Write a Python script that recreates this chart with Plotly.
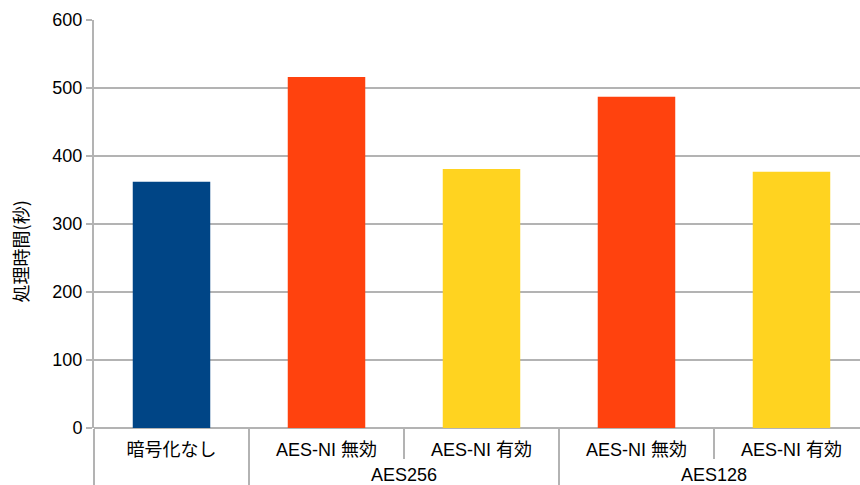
import plotly.graph_objects as go

groups = ["", "AES256", "AES256", "AES128", "AES128"]
labels = ["暗号化なし", "AES-NI 無効", "AES-NI 有効", "AES-NI 無効", "AES-NI 有効"]
values = [362, 516, 381, 487, 377]
colors = ["#004586", "#ff420e", "#ffd320", "#ff420e", "#ffd320"]
y_title = "処理時間(秒)"

FONT = "Liberation Sans, Arial, Noto Sans CJK JP, sans-serif"
GRID = "#b3b3b3"

positions = list(range(len(labels)))

# group label centres and boundaries derived from the group list
group_names, group_centers = [], []
for g in dict.fromkeys(groups):
    if not g:
        continue
    idx = [i for i, gg in enumerate(groups) if gg == g]
    group_names.append(g)
    group_centers.append(sum(idx) / len(idx))
short_div, long_div = [], [-0.5, len(labels) - 0.5]
for i in range(len(labels) - 1):
    (short_div if groups[i] == groups[i + 1] else long_div).append(i + 0.5)

fig = go.Figure()
fig.add_trace(go.Bar(
    x=positions, y=values,
    marker=dict(color=colors, line=dict(width=0)),
    width=0.5, hovertext=labels,
))
fig.add_trace(go.Scatter(
    x=positions, y=values, mode="none", xaxis="x2",
    hoverinfo="skip", showlegend=False,
))

xr = [-0.5, 4.442]
fig.update_layout(
    width=860, height=485,
    margin=dict(l=94, r=0, t=20, b=55),
    paper_bgcolor="white", plot_bgcolor="white",
    font=dict(family=FONT, size=18, color="#000000"),
    showlegend=False,
    xaxis=dict(
        range=xr, showgrid=False, showline=False, zeroline=False,
        tickmode="array", tickvals=positions, ticktext=labels,
        ticks="", ticklabelstandoff=9,
        minor=dict(tickmode="array", tickvals=short_div, ticks="outside",
                   ticklen=30, tickcolor=GRID, tickwidth=2, showgrid=False),
        tickfont=dict(size=18),
    ),
    xaxis2=dict(
        overlaying="x", anchor="y", side="bottom",
        range=xr, showgrid=False, showline=False, zeroline=False,
        tickmode="array", tickvals=group_centers, ticktext=group_names,
        ticks="", ticklabelstandoff=34,
        minor=dict(tickmode="array", tickvals=long_div, ticks="outside",
                   ticklen=56, tickcolor=GRID, tickwidth=2, showgrid=False),
        tickfont=dict(size=18),
    ),
    yaxis=dict(
        range=[0, 600], dtick=100,
        showgrid=True, gridcolor=GRID, gridwidth=2,
        zeroline=True, zerolinecolor=GRID, zerolinewidth=2,
        showline=True, linecolor=GRID, linewidth=2,
        ticks="outside", ticklen=6, tickcolor=GRID, tickwidth=2,
        tickfont=dict(size=18),
    ),
    annotations=[dict(
        text=y_title, textangle=-90, showarrow=False,
        xref="paper", yref="paper", x=-0.097, y=0.432,
        xanchor="center", yanchor="middle",
        font=dict(size=18, family="Noto Sans CJK JP"),
    )],
)

fig.write_html("out.html")
